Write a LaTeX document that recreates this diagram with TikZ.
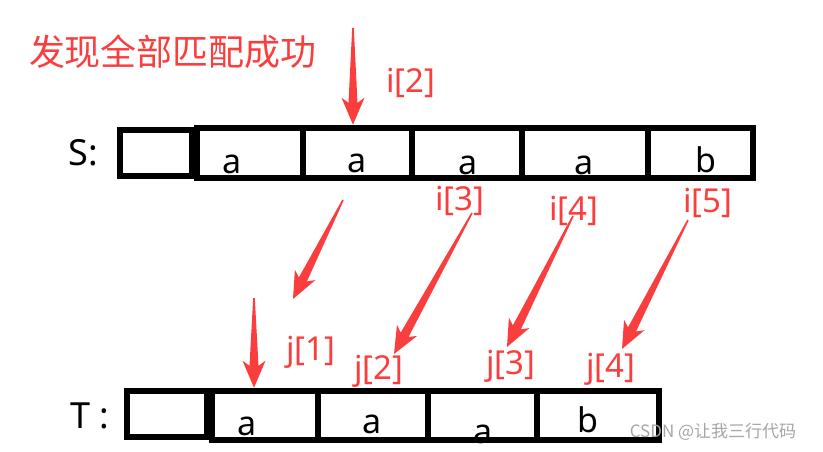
\documentclass[tikz,border=0pt]{standalone}
\usepackage{fontspec}
\setmainfont{Noto Sans}
\newfontfamily\cjk{Noto Sans CJK SC}
\usetikzlibrary{calc}
\definecolor{markred}{RGB}{250,62,62}
\definecolor{markgray}{RGB}{165,165,165}

% tapered red pointer, thin at #1, head at #2
\newcommand{\pointer}[2]{%
\fill[markred] ($(#1)!0.8pt!90:(#2)$) -- ($(#2)!22pt!(#1)!4.5pt!-90:(#1)$) -- ($(#2)!27pt!(#1)!11.5pt!-90:(#1)$) -- (#2)
 -- ($(#2)!27pt!(#1)!11.5pt!90:(#1)$) -- ($(#2)!22pt!(#1)!4.5pt!90:(#1)$) -- ($(#1)!0.8pt!-90:(#2)$) -- cycle;}

\begin{document}
\begin{tikzpicture}[x=1pt,y=-1pt,
  cell/.style={draw,line width=6.5pt,inner sep=0pt},
  sym/.style={anchor=base,font=\fontsize{34}{40}\selectfont},
  idx/.style={color=markred,font=\fontsize{33}{38}\selectfont}]
\useasboundingbox (0,0) rectangle (823,452);


\node[color=markred,font=\cjk\fontsize{36}{40}\selectfont] (title) at (173,52) {发现全部匹配成功};


%main string S
\node[font=\fontsize{36}{40}\selectfont] (slabel) at (83,153) {S:};
\node[cell,minimum width=72,minimum height=46] (s0) at (156,153) {};
\node[cell,minimum width=106,minimum height=50] (s1) at (250,153) {};
\node[cell,minimum width=109,minimum height=50] (s2) at (357.5,153) {};
\node[cell,minimum width=110,minimum height=50] (s3) at (467,153) {};
\node[cell,minimum width=126,minimum height=50] (s4) at (585,153) {};
\node[cell,minimum width=105,minimum height=50] (s5) at (700.5,153) {};
\node[sym] (sa1) at (232,173) {a};
\node[sym] (sa2) at (357,172) {a};
\node[sym] (sa3) at (468,175) {a};
\node[sym] (sa4) at (584,174) {a};
\node[sym] (sb5) at (706,172) {b};


%pattern T
\node[font=\fontsize{36}{40}\selectfont] (tlabel) at (90,416) {T :};
\node[cell,minimum width=80,minimum height=46] (t0) at (167,414) {};
\node[cell,minimum width=106,minimum height=49] (t1) at (265,415.5) {};
\node[cell,minimum width=110,minimum height=49] (t2) at (373,415.5) {};
\node[cell,minimum width=109,minimum height=49] (t3) at (482.5,415.5) {};
\node[cell,minimum width=122,minimum height=49] (t4) at (598,415.5) {};
\node[sym] (ta1) at (247,435) {a};
\node[sym] (ta2) at (372,433) {a};
\node[sym] (ta3) at (483,443) {a};
\node[sym] (tb4) at (588,432) {b};


%index labels
\node[idx] (i2) at (411,83) {i[2]};
\node[idx] (i3) at (460,201) {i[3]};
\node[idx] (i4) at (574,211) {i[4]};
\node[idx] (i5) at (708,202.5) {i[5]};
\node[idx] (j1) at (311,352) {j[1]};
\node[idx] (j2) at (379,371) {j[2]};
\node[idx] (j3) at (511,366) {j[3]};
\node[idx] (j4) at (611,369) {j[4]};


%pointer ends
\coordinate (i2tail) at (353,28);
\coordinate (i2tip) at ([xshift=-4.5]s2.north);
\coordinate (mtail) at (343,200);
\coordinate (mtip) at (293,299);
\coordinate (j1tail) at (254,298);
\coordinate (j1tip) at ([xshift=-11]t1.north);
\coordinate (i3tail) at (472,213);
\coordinate (j2tip) at (394,354);
\coordinate (i4tail) at (573,216);
\coordinate (j3tip) at (507,347);
\coordinate (i5tail) at (688,220);
\coordinate (j4tip) at (622,349);

\pointer{i2tail}{i2tip}
\pointer{mtail}{mtip}
\pointer{j1tail}{j1tip}
\pointer{i3tail}{j2tip}
\pointer{i4tail}{j3tip}
\pointer{i5tail}{j4tip}


\node[color=markgray,font=\cjk\fontsize{17}{20}\selectfont] (mark) at (713,432) {CSDN @让我三行代码};

\end{tikzpicture}
\end{document}
